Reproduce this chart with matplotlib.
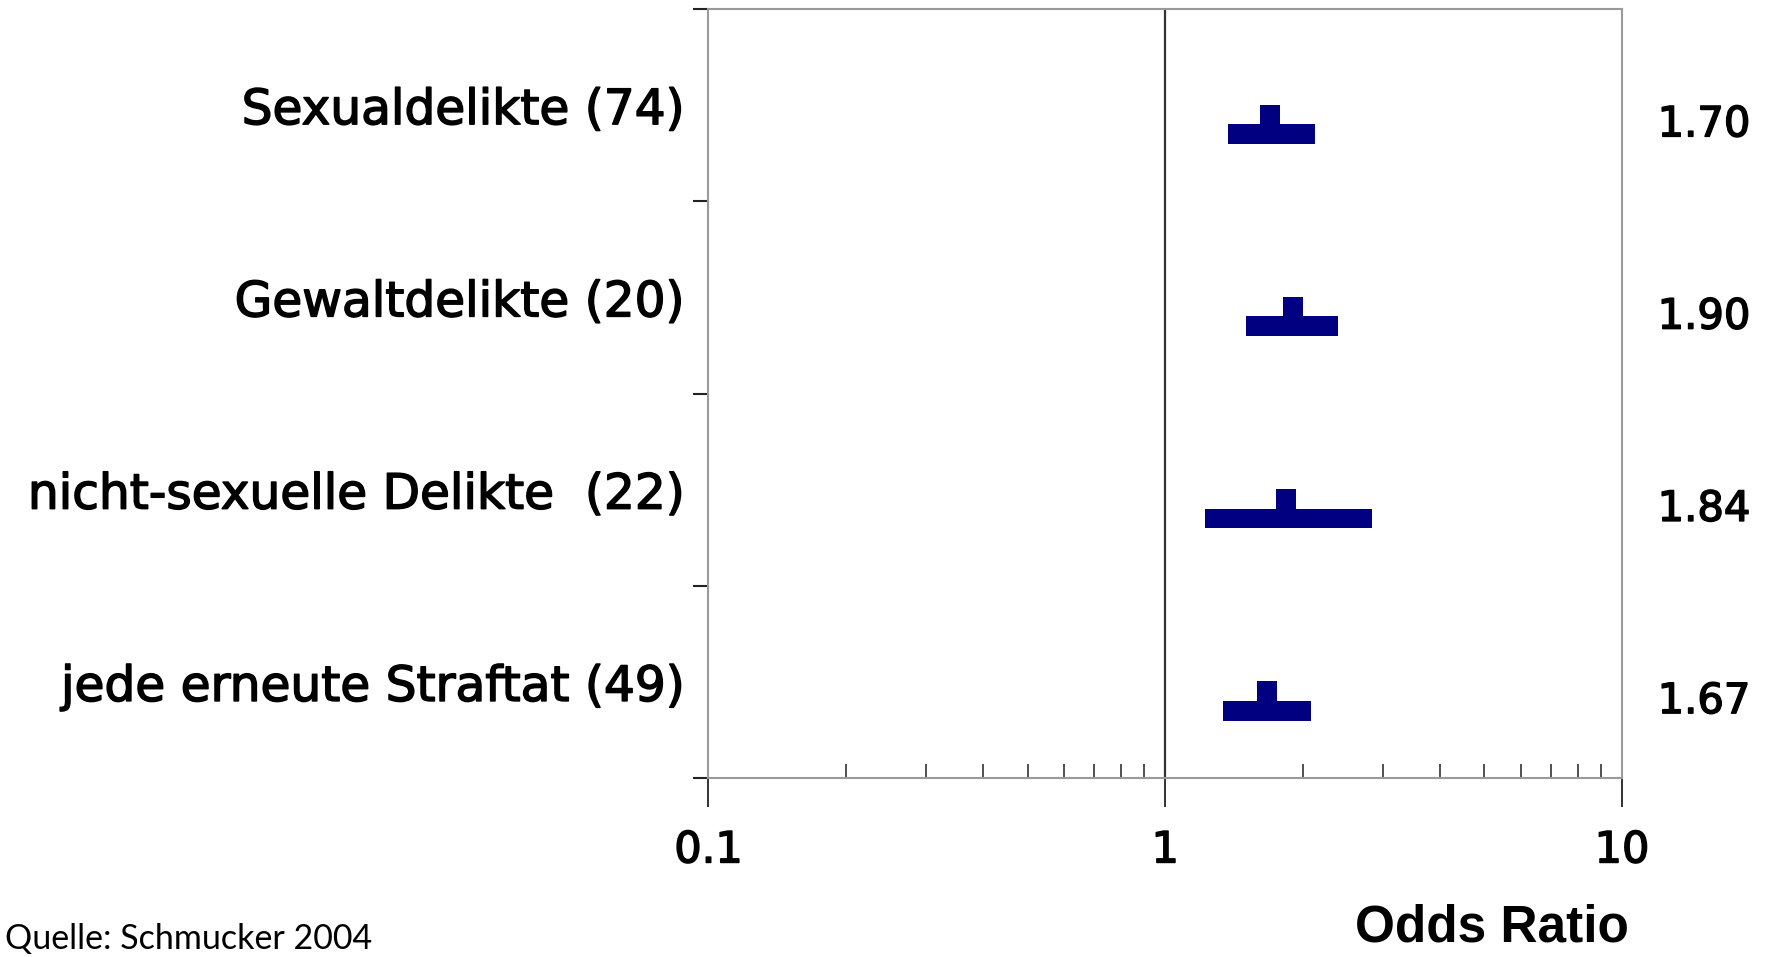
import matplotlib.pyplot as plt
import matplotlib.patheffects as pe
import matplotlib.transforms as mtransforms
import numpy as np
from matplotlib.ticker import LogLocator, NullFormatter

categories = [
    "Sexualdelikte (74)",
    "Gewaltdelikte (20)",
    "nicht-sexuelle Delikte  (22)",
    "jede erneute Straftat (49)",
]
odds_ratio = [1.70, 1.90, 1.84, 1.67]
ci_low = [1.37, 1.50, 1.22, 1.34]
ci_high = [2.13, 2.39, 2.84, 2.08]
or_labels = ["1.70", "1.90", "1.84", "1.67"]
x_ticks = [0.1, 1, 10]
x_tick_labels = ["0.1", "1", "10"]

navy = "#000080"
spine_gray = "#9a9a9a"
# thicken DejaVu text a little, the source font is a medium weight
medium = [pe.withStroke(linewidth=1.1, foreground="black")]

fig = plt.figure(figsize=(17.69, 9.57), dpi=100)
ax = fig.add_axes([0.4005, 0.187, 0.5164, 0.8036])

n = len(categories)
centers = np.arange(n) + 0.5
lo = np.array(ci_low)
hi = np.array(ci_high)

# confidence interval bars and point estimate squares (inverted T)
ax.barh(centers + 0.15, hi - lo, left=lo, height=0.103, color=navy, linewidth=0)
ax.plot(odds_ratio, centers + 0.049, linestyle="none", marker="s",
        markersize=13.8, markeredgewidth=0, color=navy)

ax.axvline(1, color="#333333", linewidth=1.6, zorder=1)

ax.set_xscale("log")
ax.set_xlim(0.1, 10)
ax.set_ylim(n, 0)

ax.set_xticks(x_ticks, x_tick_labels)
ax.xaxis.set_minor_locator(LogLocator(base=10, subs=np.arange(2, 10)))
ax.xaxis.set_minor_formatter(NullFormatter())
ax.tick_params(axis="x", which="major", direction="out", length=21, width=1.3,
               color="#222222", pad=16, labelsize=31)
ax.tick_params(axis="x", which="minor", direction="in", length=10, width=1.1,
               color="#222222")

ax.set_yticks(np.arange(n + 1))
ax.set_yticklabels([])
ax.tick_params(axis="y", which="major", direction="out", length=11, width=1.5,
               color="#222222")
ax.set_yticks(centers, categories, minor=True)
ax.tick_params(axis="y", which="minor", length=0, pad=17.6, labelsize=35)

for lab in ax.get_xticklabels() + ax.get_yticklabels(minor=True):
    lab.set_path_effects(medium)

for side in ["left", "right", "top", "bottom"]:
    ax.spines[side].set_color(spine_gray)
    ax.spines[side].set_linewidth(1.5)

trans = mtransforms.blended_transform_factory(ax.transAxes, ax.transData)
for c, lab in zip(centers, or_labels):
    ax.text(1.039, c + 0.1, lab, transform=trans, ha="left", va="center",
            fontsize=30, path_effects=medium)

fig.text(0.921, 0.056, "Odds Ratio", ha="right", va="top",
         family="Liberation Sans", fontweight="bold", fontsize=37)
fig.text(0.003, 0.002, "Quelle: Schmucker 2004", ha="left", va="bottom",
         family="Lato", fontsize=24.5)

fig.savefig("out.png", dpi=100)
